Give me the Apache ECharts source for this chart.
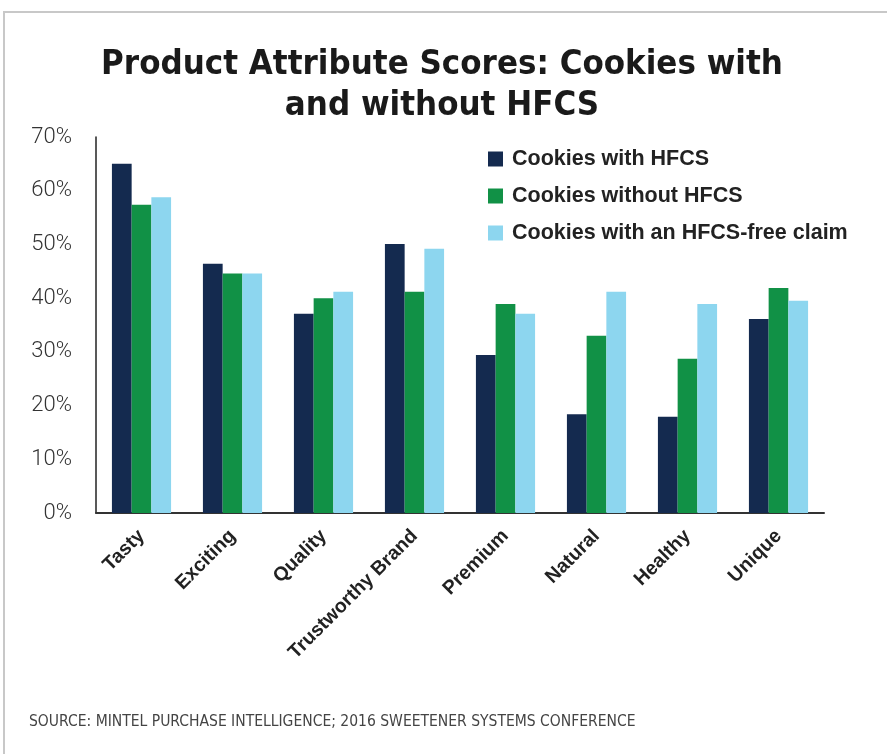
<!DOCTYPE html>
<html>
<head>
<meta charset="utf-8">
<style>
  html, body { margin: 0; padding: 0; background: #fff; }
  #chart { width: 887px; height: 754px; }
</style>
<script src="https://cdn.jsdelivr.net/npm/echarts@6/dist/echarts.min.js"></script>
</head>
<body>
<div id="chart"></div>
<script>
// categories and values (percent)
const categories = ['Tasty', 'Exciting', 'Quality', 'Trustworthy Brand', 'Premium', 'Natural', 'Healthy', 'Unique']
const withHFCS = [65, 46.4, 37.1, 50.1, 29.4, 18.4, 17.9, 36.1]
const withoutHFCS = [57.4, 44.6, 40, 41.2, 38.9, 33, 28.7, 41.9]
const hfcsFreeClaim = [58.8, 44.6, 41.2, 49.2, 37.1, 41.2, 38.9, 39.5]
const seriesNames = ['Cookies with HFCS', 'Cookies without HFCS', 'Cookies with an HFCS-free claim']
const colors = ['#142a4f', '#119146', '#8dd6ef']

const chart = echarts.init(document.getElementById('chart'))

const makeSeries = (name, data, color) => ({
    name: name,
    type: 'bar',
    data: data,
    barGap: '0%',
    barCategoryGap: '35%',
    itemStyle: { color: color },
    emphasis: { disabled: true }
})

chart.setOption({
    animation: false,
    graphic: [
        {
            // light frame round the figure
            type: 'polyline',
            shape: { points: [[4, 754], [4, 12], [887, 12]] },
            style: { stroke: '#c8c8c8', lineWidth: 2, fill: null }
        },
        {
            type: 'text',
            left: 29,
            top: 714,
            style: {
                text: 'SOURCE: MINTEL PURCHASE INTELLIGENCE; 2016 SWEETENER SYSTEMS CONFERENCE',
                fontFamily: '"DejaVu Sans Condensed", sans-serif',
                fontSize: 15.5,
                fill: '#444'
            }
        }
    ],
    title: {
        text: 'Product Attribute Scores: Cookies with\nand without HFCS',
        left: 437,
        textAlign: 'center',
        top: 40,
        textStyle: {
            fontFamily: '"DejaVu Sans Condensed", sans-serif',
            fontWeight: 'bold',
            fontSize: 34.5,
            lineHeight: 41,
            color: '#1a1a1a'
        }
    },
    legend: {
        orient: 'vertical',
        left: 483,
        top: 143,
        itemWidth: 15,
        itemHeight: 15,
        itemGap: 15,
        icon: 'rect',
        selectedMode: false,
        data: seriesNames,
        textStyle: {
            fontFamily: 'Liberation Sans, Arial, sans-serif',
            fontWeight: 'bold',
            fontSize: 21.5,
            color: '#222',
            padding: [0, 0, 0, 4]
        }
    },
    grid: {
        left: 96,
        right: 63,
        top: 137,
        bottom: 241,
        containLabel: false
    },
    xAxis: {
        type: 'category',
        data: categories,
        axisTick: { show: false },
        axisLine: { lineStyle: { color: '#333', width: 2 } },
        axisLabel: {
            rotate: 45,
            interval: 0,
            margin: 20,
            fontFamily: 'Liberation Sans, Arial, sans-serif',
            fontWeight: 'bold',
            fontSize: 19.5,
            color: '#222'
        }
    },
    yAxis: {
        type: 'value',
        min: 0,
        max: 70,
        interval: 10,
        splitLine: { show: false },
        axisTick: { show: false },
        axisLine: { show: true, lineStyle: { color: '#222', width: 1.5 } },
        axisLabel: {
            margin: 24,
            formatter: '{value}%',
            fontFamily: 'Roboto, sans-serif',
            fontWeight: 300,
            fontSize: 22,
            color: '#333'
        }
    },
    series: [
        makeSeries(seriesNames[0], withHFCS, colors[0]),
        makeSeries(seriesNames[1], withoutHFCS, colors[1]),
        makeSeries(seriesNames[2], hfcsFreeClaim, colors[2])
    ]
})
</script>
</body>
</html>
